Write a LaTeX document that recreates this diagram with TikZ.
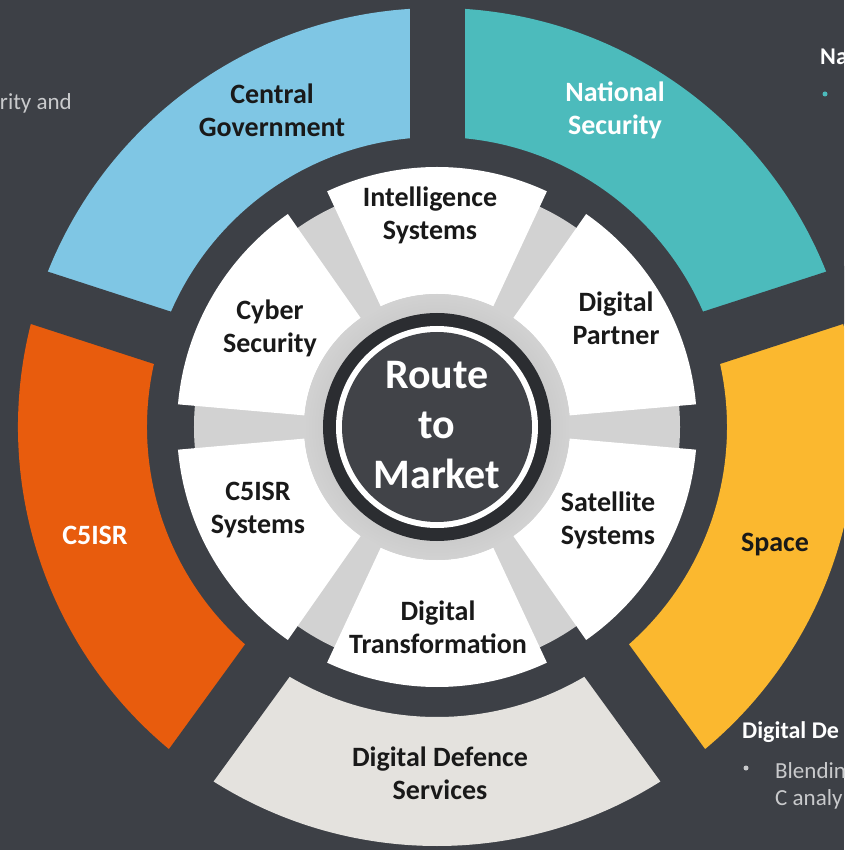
\documentclass[tikz,border=0pt]{standalone}
\usepackage{fontspec}
\setmainfont{Carlito}
\usetikzlibrary{positioning}

\definecolor{bgdark}{HTML}{3D4046}
\definecolor{govblue}{HTML}{7FC6E4}
\definecolor{secteal}{HTML}{4CBBBC}
\definecolor{spaceyellow}{HTML}{FBB82F}
\definecolor{ddsgray}{HTML}{E4E2DE}
\definecolor{cfiveorange}{HTML}{E85C0D}
\definecolor{ringgray}{HTML}{D2D2D2}
\definecolor{hubdark}{HTML}{414348}
\definecolor{sidegray}{HTML}{C9CACC}

\tikzset{
  seglabel/.style={font=\bfseries\fontsize{28}{33}\selectfont, align=center, text=black!90, inner sep=0pt},
  hublabel/.style={font=\bfseries\fontsize{42}{50}\selectfont, align=center, text=white, inner sep=0pt},
  sidetext/.style={font=\fontsize{23}{27}\selectfont, text=sidegray, inner sep=0pt},
  sidehead/.style={font=\bfseries\fontsize{24}{27}\selectfont, text=white, inner sep=0pt},
}

\begin{document}
\begin{tikzpicture}[x=1pt,y=1pt]
\useasboundingbox (-437,-423) rectangle (407,427);
\clip (-437,-423) rectangle (407,427);
\fill[bgdark] (-437,-423) rectangle (407,427);

% outer ring, five sectors
\foreach \a/\col in {90/govblue, 18/secteal, -54/spaceyellow, -126/ddsgray, 162/cfiveorange}
  \fill[\col] (\a:290) arc[start angle=\a, end angle=\a+72, radius=290]
    -- (\a+72:419) arc[start angle=\a+72, end angle=\a, radius=419] -- cycle;
% straight gaps
\foreach \a in {18,90,162,234,306}
  \draw[bgdark, line width=55] (0,0) -- (\a:440);

% inner wheel
\fill[ringgray] (0,0) circle (243);
\foreach \c in {90,150,...,390}
  \fill[white] (\c-25:133) arc[start angle=\c-25, end angle=\c+25, radius=133]
    -- (\c+25:260) arc[start angle=\c+25, end angle=\c-25, radius=260] -- cycle;
\shade[inner color=gray!70, outer color=ringgray] (0,0) circle (133);
%\draw[very thin,red] (0,0) circle (133);
\fill[black!30!bgdark] (0,0) circle (114);
\fill[white] (0,0) circle (101);
\fill[hubdark] (0,0) circle (95);

\node[hublabel] (hub) at (0,2) {Route\\to\\Market};

% outer labels
\node[seglabel] (govt) at (-165,317) {Central\\Government};
\node[seglabel, text=white] (natsec) at (178,317) {National\\Security};
\node[seglabel] (space) at (338,-118) {Space};
\node[seglabel] (dds) at (3,-346) {Digital Defence\\Services};
\node[seglabel, text=white] (cfive) at (-342,-108) {C5ISR};

% inner labels
\node[seglabel] (intel) at (-7,212) {Intelligence\\Systems};
\node[seglabel] (partner) at (179,109) {Digital\\Partner};
\node[seglabel] (sat) at (171,-93) {Satellite\\Systems};
\node[seglabel] (transf) at (1,-200) {Digital\\Transformation};
\node[seglabel] (cfivesys) at (-179,-83) {C5ISR\\Systems};
\node[seglabel] (cyber) at (-167,99) {Cyber\\Security};

% side notes, cut by the frame
\node[sidetext, anchor=base east] (govnote) at (-365,317) {rity and};
\node[sidehead, anchor=base west] (nshead) at (383,362) {Na};
\fill[secteal] (388,333) circle (2.5);
\node[sidehead, anchor=base west] (ddshead) at (305,-311) {Digital De};
\fill[sidegray] (309,-341) circle (2.5);
\node[sidetext, anchor=base west] (ddsline) at (338,-351) {Blendin};
\node[sidetext, anchor=base west] (ddsline2) at (338,-378) {C analy};
\end{tikzpicture}
\end{document}
